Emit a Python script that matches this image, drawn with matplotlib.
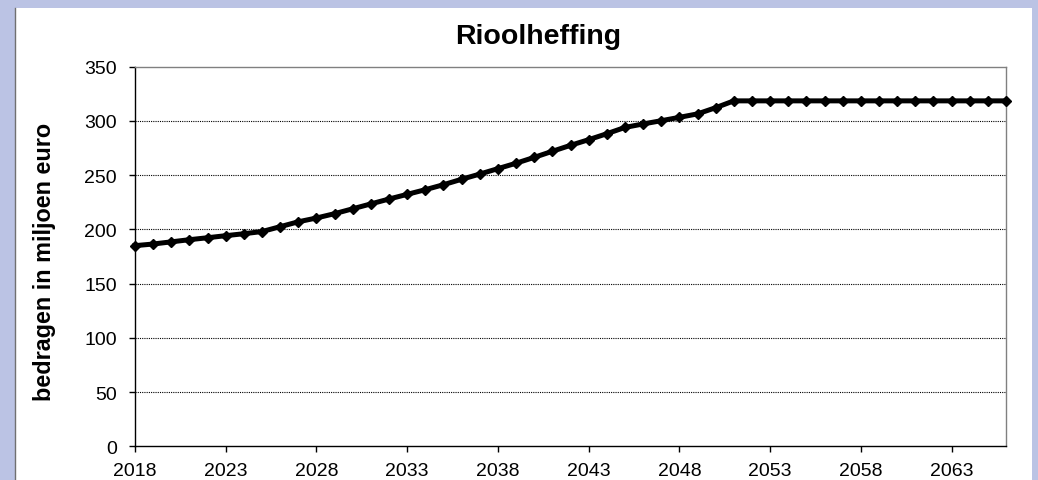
import matplotlib
matplotlib.use('Agg')
import matplotlib.pyplot as plt
from matplotlib.patches import Rectangle
from matplotlib.lines import Line2D

# Data (miljoen euro per jaar)
years = list(range(2018, 2067))
rioolheffing = [
    185.0, 186.5, 188.5, 190.5, 192.3, 194.2, 196.0, 198.0, 202.5, 207.0,
    210.5, 214.5, 219.0, 223.5, 228.0, 232.3, 236.6, 241.2, 246.2, 251.0,
    256.0, 261.0, 266.4, 272.0, 277.5, 282.7, 288.2, 294.0, 297.2, 300.2,
    303.3, 306.5, 312.2, 318.5, 318.5, 318.5, 318.5, 318.5, 318.5, 318.5,
    318.5, 318.5, 318.5, 318.5, 318.5, 318.5, 318.5, 318.5, 318.5,
]
x_ticks = list(range(2018, 2064, 5))
y_ticks = list(range(0, 351, 50))

plt.rcParams['font.family'] = ['Liberation Sans', 'DejaVu Sans']

W, H = 1038, 481
fig = plt.figure(figsize=(W / 100, H / 100), dpi=100)
fig.patch.set_facecolor('#BBC3E4')

# white chart area with a thin border on the left (kept behind the axes)
fig.patches.append(Rectangle((15 / W, 0), (1032 - 15) / W, 1 - 9 / H,
                             transform=fig.transFigure, facecolor='white',
                             edgecolor='none', zorder=-10))
fig.lines.append(Line2D([15 / W, 15 / W], [0, 1 - 9 / H], transform=fig.transFigure,
                        color='#707070', linewidth=1, zorder=-9))

ax = fig.add_axes([135 / W, 1 - 447.3 / H, (1006 - 135) / W, (447.3 - 67.7) / H])
ax.set_zorder(1)
ax.set_facecolor('white')

ax.plot(years, rioolheffing, color='black', linewidth=3.6, marker='D',
        markersize=5.5, markerfacecolor='black', markeredgecolor='black',
        clip_on=False, zorder=3)

ax.set_xlim(2018, 2066)
ax.set_ylim(0, 350)
ax.set_xticks(x_ticks)
ax.set_yticks(y_ticks)
ax.tick_params(axis='both', direction='out', length=4, width=1, labelsize=14,
               colors='black')
ax.tick_params(axis='x', pad=7)
ax.tick_params(axis='y', pad=9)

for v in y_ticks[1:-1]:
    ax.axhline(v, color='black', linewidth=0.8, linestyle=(0, (1, 1)), zorder=1)

ax.spines['left'].set_color('black')
ax.spines['bottom'].set_color('black')
ax.spines['top'].set_color('#808080')
ax.spines['right'].set_color('#808080')
for s in ax.spines.values():
    s.set_linewidth(1)

ax.set_ylabel('bedragen in miljoen euro', fontsize=16.8, fontweight='bold')
ax.yaxis.set_label_coords(-0.0905, 0.487)
fig.text(538 / W, 1 - 37 / H, 'Rioolheffing', ha='center', va='center',
         fontsize=20.5, fontweight='bold')

fig.savefig('out.png', dpi=100, facecolor=fig.get_facecolor())
plt.close(fig)
